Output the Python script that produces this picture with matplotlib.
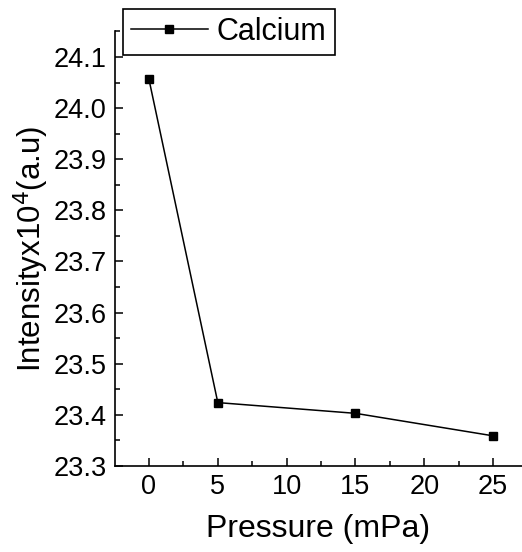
import matplotlib
matplotlib.use("Agg")
import matplotlib.pyplot as plt
from matplotlib.ticker import MultipleLocator

# ==== Data ====
pressure = [0, 5, 15, 25]
intensity = [24.056, 23.424, 23.403, 23.359]
series_name = "Calcium"

plt.rcParams['font.family'] = ['Liberation Sans', 'DejaVu Sans']

fig = plt.figure(figsize=(5.22, 5.52), dpi=100)
ax = fig.add_axes([0.2203, 0.1558, 0.7797, 0.7873])

ax.plot(pressure, intensity, color='black', linewidth=1.1,
        marker='s', markersize=5.5, label=series_name)

ax.set_xlim(-2.47, 27.1)
ax.set_ylim(23.3, 24.15)

ax.xaxis.set_major_locator(MultipleLocator(5))
ax.xaxis.set_minor_locator(MultipleLocator(2.5))
ax.yaxis.set_major_locator(MultipleLocator(0.1))
ax.yaxis.set_minor_locator(MultipleLocator(0.05))

for side in ('top', 'right'):
    ax.spines[side].set_visible(False)
for side in ('left', 'bottom'):
    ax.spines[side].set_linewidth(1.2)

ax.tick_params(which='major', direction='in', length=6, width=1.1,
               labelsize=19.5, pad=6)
ax.tick_params(which='minor', direction='in', length=3.5, width=1.1)

ax.set_xlabel("Pressure (mPa)", fontsize=23, labelpad=10)
ax.set_ylabel(r"Intensityx10$^4$(a.u)", fontsize=22.5, labelpad=2)

leg = ax.legend(loc='upper left', bbox_to_anchor=(123 / 522, 1 - 8.7 / 552),
                bbox_transform=fig.transFigure, fontsize=22, frameon=True,
                fancybox=False, handlelength=2.5, borderpad=0.27,
                handletextpad=0.3, borderaxespad=0)
leg.get_frame().set_edgecolor('black')
leg.get_frame().set_linewidth(1.2)
leg.get_frame().set_alpha(1)

fig.savefig("out.png", dpi=100)
